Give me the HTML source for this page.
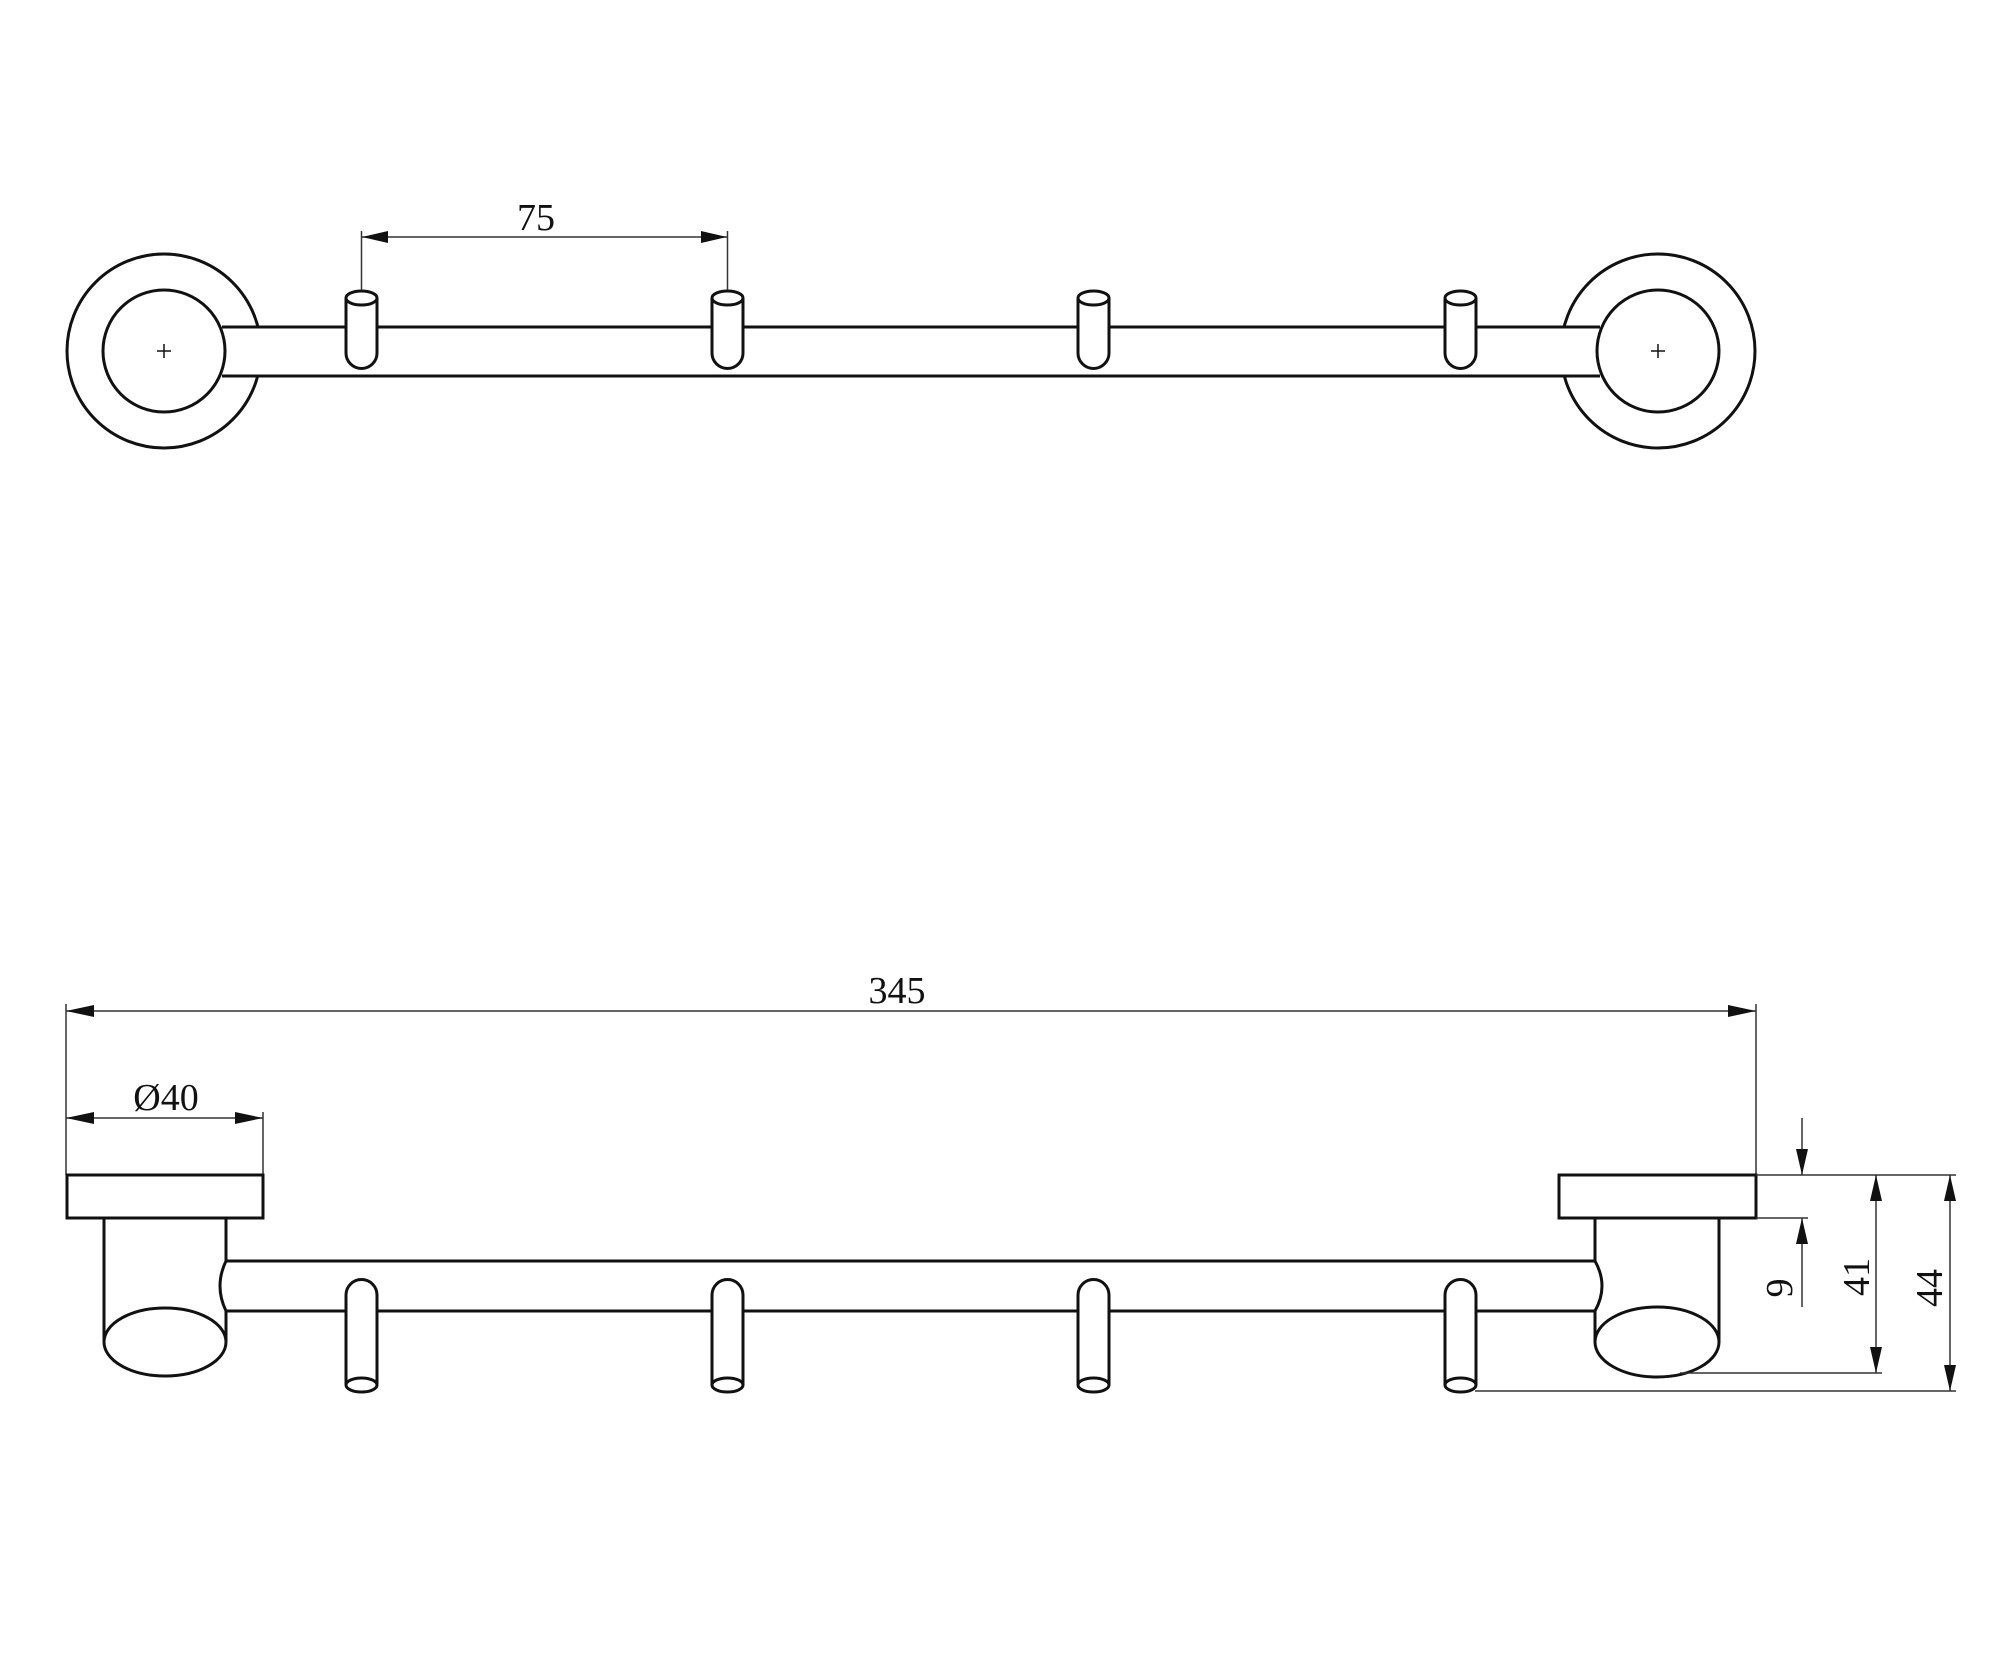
<!DOCTYPE html>
<html><head><meta charset="utf-8"><style>
html,body{margin:0;padding:0;background:#fff;}
svg{display:block;}
text{font-family:"Liberation Serif",serif;fill:#111;}
</style></head><body>
<svg width="2000" height="1660" viewBox="0 0 2000 1660" xmlns="http://www.w3.org/2000/svg">
<defs>
<g id="pinTop">
  <path d="M346,298 L346,353 A15.5,15.5 0 0 0 377,353 L377,298" fill="#fff" stroke="#111" stroke-width="3"/>
  <ellipse cx="361.5" cy="298" rx="15.5" ry="7" fill="#fff" stroke="#111" stroke-width="3"/>
</g>
<g id="pinBot">
  <path d="M346,1385 L346,1295 A15.5,15.5 0 0 1 377,1295 L377,1385" fill="#fff" stroke="#111" stroke-width="3"/>
  <ellipse cx="361.5" cy="1385" rx="15.5" ry="7" fill="#fff" stroke="#111" stroke-width="3"/>
</g>
</defs>
<g fill="none" stroke="#111" stroke-width="3">
  <!-- TOP VIEW -->
  <circle cx="164" cy="351" r="97"/>
  <circle cx="1658" cy="351" r="97"/>
  <rect x="222" y="327" width="1378" height="49" fill="#fff" stroke="none"/>
  <line x1="222" y1="327" x2="1600" y2="327"/>
  <line x1="222" y1="376" x2="1600" y2="376"/>
  <circle cx="164" cy="351" r="61" fill="#fff"/>
  <circle cx="1658" cy="351" r="61" fill="#fff"/>
</g>
<g stroke="#111" stroke-width="1.5">
  <line x1="157" y1="351" x2="171" y2="351"/><line x1="164" y1="344" x2="164" y2="358"/>
  <line x1="1651" y1="351" x2="1665" y2="351"/><line x1="1658" y1="344" x2="1658" y2="358"/>
</g>
<use href="#pinTop"/>
<use href="#pinTop" x="366"/>
<use href="#pinTop" x="732"/>
<use href="#pinTop" x="1099"/>
<!-- 75 dim -->
<g stroke="#333" stroke-width="1.5">
  <line x1="361.5" y1="231" x2="361.5" y2="290"/>
  <line x1="727.5" y1="231" x2="727.5" y2="290"/>
  <line x1="362" y1="237" x2="727" y2="237"/>
</g>
<polygon points="362,237 388,231 388,243" fill="#111"/>
<polygon points="727,237 701,231 701,243" fill="#111"/>
<text x="536" y="230" font-size="38" text-anchor="middle">75</text>

<!-- FRONT VIEW -->
<g stroke="#333" stroke-width="1.5">
  <line x1="66" y1="1004" x2="66" y2="1175"/>
  <line x1="1756" y1="1004" x2="1756" y2="1175"/>
  <line x1="66" y1="1011" x2="1756" y2="1011"/>
  <line x1="263" y1="1112" x2="263" y2="1175"/>
  <line x1="66" y1="1118" x2="263" y2="1118"/>
</g>
<polygon points="66,1011 94,1005 94,1017" fill="#111"/>
<polygon points="1756,1011 1728,1005 1728,1017" fill="#111"/>
<polygon points="66,1118 94,1112 94,1124" fill="#111"/>
<polygon points="263,1118 235,1112 235,1124" fill="#111"/>
<text x="897" y="1003" font-size="38" text-anchor="middle">345</text>
<text x="166" y="1110" font-size="38" text-anchor="middle">Ø40</text>

<g fill="#fff" stroke="#111" stroke-width="3">
  <rect x="67" y="1175" width="196" height="43"/>
  <rect x="1559" y="1175" width="197" height="43"/>
  <!-- left post -->
  <path d="M104,1218 L104,1342 M226,1218 L226,1261 Q214,1286 226,1311 L226,1342" fill="none"/>
  <ellipse cx="165" cy="1342" rx="61" ry="34"/>
  <!-- right post -->
  <path d="M1719,1218 L1719,1342 M1595,1218 L1595,1261 Q1609,1286 1595,1311 L1595,1342" fill="none"/>
  <ellipse cx="1657" cy="1342" rx="62" ry="35"/>
  <line x1="226" y1="1261" x2="1595" y2="1261"/>
  <line x1="226" y1="1311" x2="1595" y2="1311"/>
</g>
<use href="#pinBot"/>
<use href="#pinBot" x="366"/>
<use href="#pinBot" x="732"/>
<use href="#pinBot" x="1099"/>

<!-- right dims -->
<g stroke="#333" stroke-width="1.5">
  <line x1="1756" y1="1175" x2="1956" y2="1175"/>
  <line x1="1756" y1="1218" x2="1808" y2="1218"/>
  <line x1="1680" y1="1373" x2="1882" y2="1373"/>
  <line x1="1475" y1="1391" x2="1956" y2="1391"/>
  <line x1="1802" y1="1118" x2="1802" y2="1175"/>
  <line x1="1802" y1="1218" x2="1802" y2="1307"/>
  <line x1="1876" y1="1175" x2="1876" y2="1373"/>
  <line x1="1950" y1="1175" x2="1950" y2="1391"/>
</g>
<g fill="#111">
  <polygon points="1802,1175 1796,1149 1808,1149"/>
  <polygon points="1802,1218 1796,1244 1808,1244"/>
  <polygon points="1876,1175 1870,1201 1882,1201"/>
  <polygon points="1876,1373 1870,1347 1882,1347"/>
  <polygon points="1950,1175 1944,1201 1956,1201"/>
  <polygon points="1950,1391 1944,1365 1956,1365"/>
</g>
<text transform="translate(1792,1288) rotate(-90)" font-size="38" text-anchor="middle">9</text>
<text transform="translate(1869,1277) rotate(-90)" font-size="38" text-anchor="middle">41</text>
<text transform="translate(1942,1288) rotate(-90)" font-size="38" text-anchor="middle">44</text>
</svg>
</body></html>
